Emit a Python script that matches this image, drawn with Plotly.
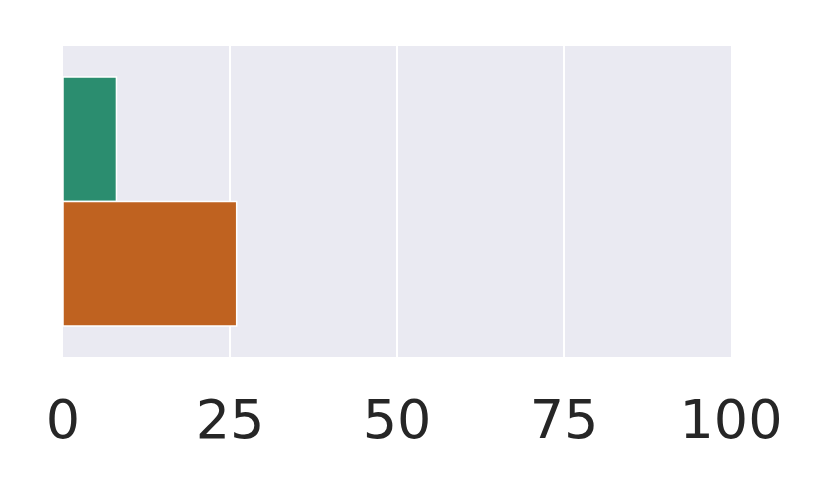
import plotly.graph_objects as go

categories = [""]
series_names = ["A", "B"]
series_values = [[8], [26]]
series_colors = ["#2b8d6f", "#bf6220"]
tick_vals = [0, 25, 50, 75, 100]
tick_text = ["0", "25", "50", "75", "100"]

fig = go.Figure()
for name, vals, col in zip(series_names, series_values, series_colors):
    fig.add_trace(go.Bar(
        x=vals, y=categories, orientation="h", name=name,
        marker=dict(color=col, line=dict(color="white", width=1.5)),
    ))

fig.update_layout(
    width=830, height=498,
    margin=dict(l=55, r=107, t=38, b=149),
    paper_bgcolor="white", plot_bgcolor="#eaeaf2",
    barmode="group", bargap=0.2, bargroupgap=0,
    showlegend=False,
    font=dict(family="DejaVu Sans", color="#262626", size=54),
)
fig.update_xaxes(
    range=[0, 100], tickvals=tick_vals, ticktext=tick_text,
    showgrid=True, gridcolor="white", gridwidth=2,
    zeroline=False, showline=False, ticks="", ticklabelstandoff=26,
    automargin=False,
)
fig.update_yaxes(
    autorange="reversed", showticklabels=False, showgrid=False,
    zeroline=False, showline=False, ticks="", automargin=False,
)
fig.write_html("out.html")
